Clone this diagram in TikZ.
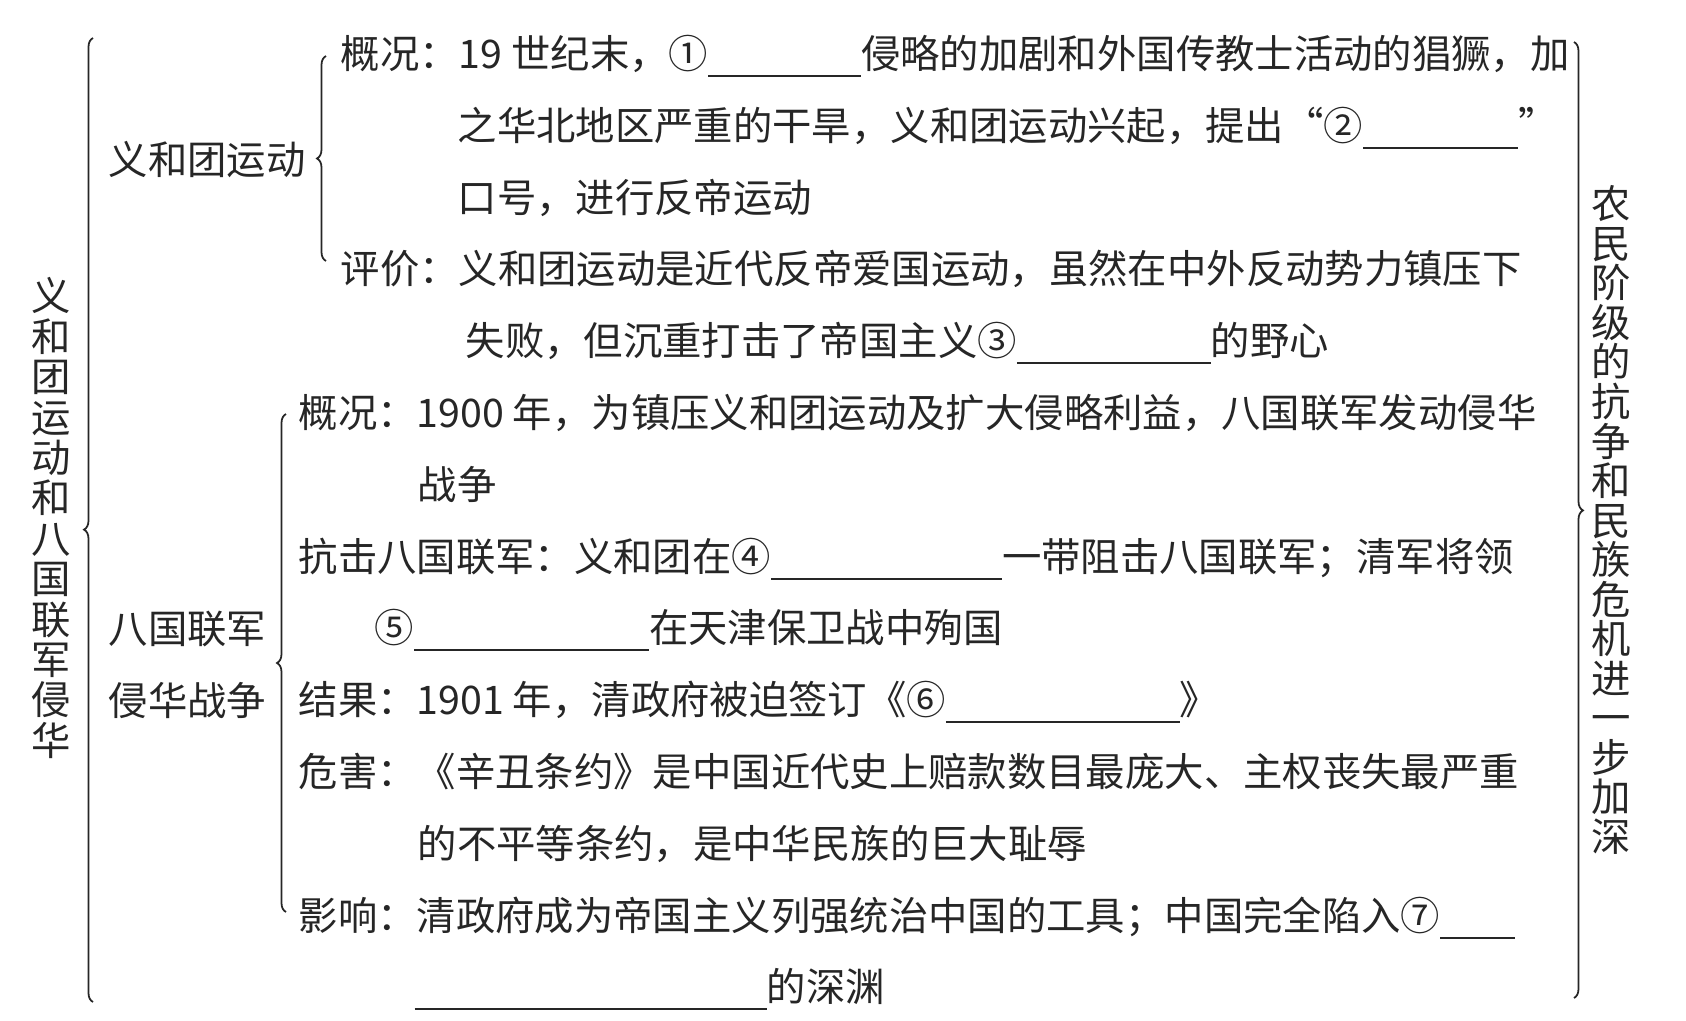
\documentclass[tikz,border=0pt]{standalone}
\usepackage{fontspec}
\setmainfont{Noto Sans CJK SC}
\usetikzlibrary{decorations.pathreplacing}
\definecolor{ink}{gray}{0.15}
\newcommand{\blank}[1]{\rule[-0.22em]{#1}{0.5pt}}
\newcommand{\mainsize}{\fontsize{11.2pt}{14pt}\selectfont}

\begin{document}
\begin{tikzpicture}[x=0.1mm, y=-0.1mm,
  txt/.style={anchor=base west, inner sep=0pt, font=\mainsize, text=ink},
  vtxt/.style={align=center, inner sep=0pt, text=ink},
  brc/.style={draw=ink, line width=0.5pt, decorate, decoration={brace, amplitude=0.9mm}}]
  \useasboundingbox (0,0) rectangle (1686,1021);

  \node[vtxt, font=\fontsize{11.2pt}{11.5pt}\selectfont] (title) at (51,518)
    {义\\和\\团\\运\\动\\和\\八\\国\\联\\军\\侵\\华};
  \node[vtxt, font=\fontsize{11.2pt}{11.25pt}\selectfont] (summary) at (1611,520)
    {农\\民\\阶\\级\\的\\抗\\争\\和\\民\\族\\危\\机\\进\\一\\步\\加\\深};

  \node[txt] (boxer) at (108,175) {义和团运动};
  \node[txt] (allied1) at (108,643) {八国联军};
  \node[txt] (allied2) at (108,715) {侵华战争};

  \node[txt] (ovA1) at (340,68) {概况：19 世纪末，①\blank{15.3mm}侵略的加剧和外国传教士活动的猖獗，加};
  \node[txt] (ovA2) at (457,140) {之华北地区严重的干旱，义和团运动兴起，提出“②\blank{15.5mm}”};
  \node[txt] (ovA3) at (457,212) {口号，进行反帝运动};
  \node[txt] (evA1) at (340,283) {评价：义和团运动是近代反帝爱国运动，虽然在中外反动势力镇压下};
  \node[txt] (evA2) at (465,355) {失败，但沉重打击了帝国主义③\blank{19.4mm}的野心};

  \node[txt] (ovB1) at (298,427) {概况：1900 年，为镇压义和团运动及扩大侵略利益，八国联军发动侵华};
  \node[txt] (ovB2) at (417,499) {战争};
  \node[txt] (fight1) at (298,571) {抗击八国联军：义和团在④\blank{23.1mm}一带阻击八国联军；清军将领};
  \node[txt] (fight2) at (374,642) {⑤\blank{23.5mm}在天津保卫战中殉国};
  \node[txt] (result) at (298,714) {结果：1901 年，清政府被迫签订《⑥\blank{23.4mm}》};
  \node[txt] (harm1) at (298,786) {危害：《辛丑条约》是中国近代史上赔款数目最庞大、主权丧失最严重};
  \node[txt] (harm2) at (417,858) {的不平等条约，是中华民族的巨大耻辱};
  \node[txt] (effect1) at (298,930) {影响：清政府成为帝国主义列强统治中国的工具；中国完全陷入⑦\blank{7.5mm}};
  \node[txt] (effect2) at (414,1001) {\blank{35.2mm}的深渊};

  \coordinate (outerB) at (93,1002);
  \coordinate (outerT) at (93,38);
  \coordinate (boxerB) at (326,261);
  \coordinate (boxerT) at (326,56);
  \coordinate (alliedB) at (286,912);
  \coordinate (alliedT) at (286,414);
  \coordinate (rightT) at (1574,42);
  \coordinate (rightB) at (1574,998);

  \draw[brc, decoration={aspect=0.49}] (outerB) -- (outerT);
  \draw[brc] (boxerB) -- (boxerT);
  \draw[brc] (alliedB) -- (alliedT);
  \draw[brc, decoration={aspect=0.49}] (rightT) -- (rightB);
\end{tikzpicture}
\end{document}
